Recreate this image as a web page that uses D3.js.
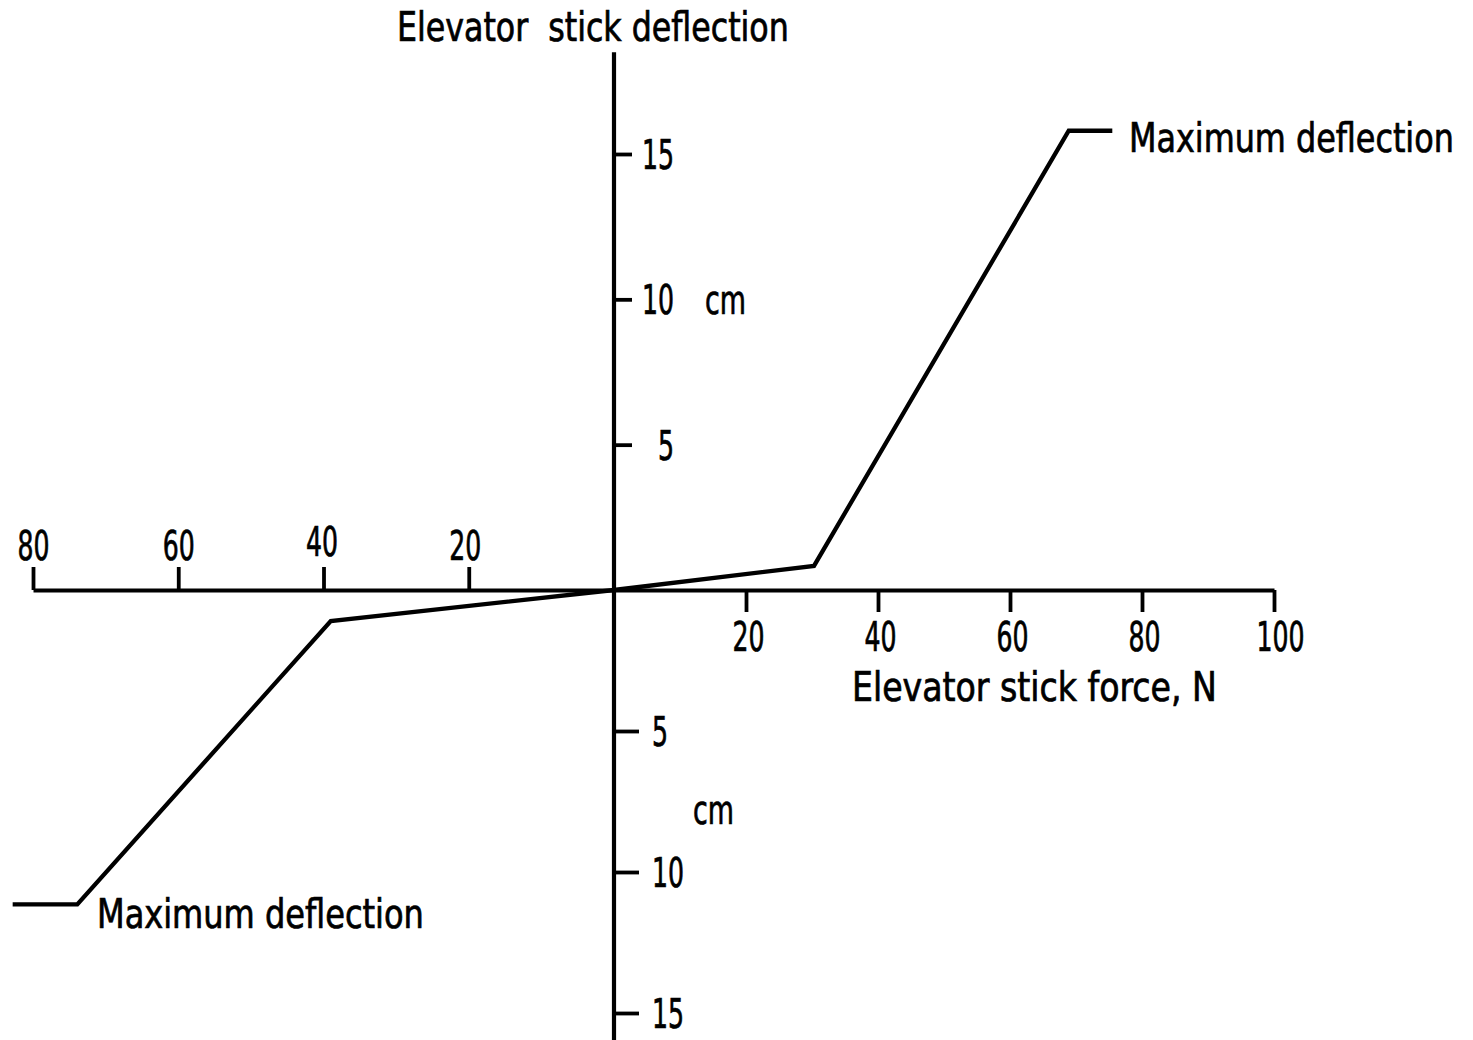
<!DOCTYPE html>
<html><head><meta charset="utf-8">
<script src="https://cdn.jsdelivr.net/npm/d3@7"></script>
<style>
html,body{margin:0;padding:0;background:#fff;}
svg{display:block;background:#fff;}
text{font-family:"Liberation Sans Narrow","DejaVu Sans Condensed","Roboto Condensed",sans-serif;font-stretch:condensed;font-size:40px;fill:#000;stroke:#000;stroke-width:0.7px;white-space:pre;}
</style></head><body>
<svg id="chart" width="1473" height="1040"></svg>
<script>
// ---- data ----
const forceBreaks = [-80, 0, 100];          // elevator stick force, N (push side drawn at a different scale)
const deflBreaks = [-15, 0, 15];            // elevator stick deflection, cm
const forceTicksLeft = [-80, -60, -40, -20];
const forceTicksRight = [20, 40, 60, 80, 100];
const deflTicksUp = [5, 10, 15];
const deflTicksDown = [-5, -10, -15];
const deflAxisExtent = [-16, 18.5];
const pullForce = [0, 30.3, 68.9, 75.5];
const pullDefl  = [0, 0.83, 15.8, 15.8];
const pushForce = [0, -39.0, -73.9, -82.8];
const pushDefl  = [0, -1.1, -11.15, -11.15];
const labels = {
  yTitle: "Elevator  stick deflection",
  xTitle: "Elevator stick force, N",
  maxUp: "Maximum deflection",
  maxDown: "Maximum deflection",
  unit: "cm"
};

// ---- drawing ----
const svg = d3.select("#chart");
const x = d3.scaleLinear().domain(forceBreaks).range([33, 614, 1274]);
const y = d3.scaleLinear().domain(deflBreaks).range([1013, 590, 154]);
const AX = 3.8;

function fitDigits(sel){
  sel.selectAll("text").each(function(){
    const n = this.textContent.length;
    d3.select(this).attr("textLength", n * 16).attr("lengthAdjust", "spacingAndGlyphs");
  });
}
function styleAxis(g){
  g.attr("font-size", null).attr("font-family", null);
  g.selectAll("line,path").attr("stroke", "#000").attr("stroke-width", AX);
}

// left (push) force axis
const xl = d3.scaleLinear().domain([forceBreaks[0], 0]).range([x(forceBreaks[0]), x(0)]);
const gl = svg.append("g").attr("transform", `translate(0,${y(0)})`)
  .call(d3.axisTop(xl).tickValues(forceTicksLeft).tickSize(23).tickSizeOuter(0).tickPadding(7)
    .tickFormat(d => Math.abs(d)));
styleAxis(gl); fitDigits(gl);
gl.selectAll(".tick text").attr("dx", d => d === -40 ? -2 : (d === -20 ? -4 : 0))
  .attr("dy", d => d === -40 ? "-0.1em" : "0em");

// right (pull) force axis
const xr = d3.scaleLinear().domain([0, forceBreaks[2]]).range([x(0), x(forceBreaks[2])]);
const gr = svg.append("g").attr("transform", `translate(0,${y(0)})`)
  .call(d3.axisBottom(xr).tickValues(forceTicksRight).tickSize(22).tickSizeOuter(0).tickPadding(11));
styleAxis(gr); fitDigits(gr);
gr.selectAll(".tick text").attr("dx", d => d === 100 ? 6 : 2);

// upper deflection ticks
const yu = d3.scaleLinear().domain([0, deflBreaks[2]]).range([y(0), y(deflBreaks[2])]);
const gu = svg.append("g").attr("transform", `translate(${x(0)},0)`)
  .call(d3.axisRight(yu).tickValues(deflTicksUp).tickSize(18).tickSizeOuter(0));
styleAxis(gu); gu.select(".domain").remove();
gu.selectAll(".tick text").attr("text-anchor", "end").attr("x", 60).attr("dy", "0.36em");
fitDigits(gu);

// lower deflection ticks
const yd = d3.scaleLinear().domain([deflBreaks[0], 0]).range([y(deflBreaks[0]), y(0)]);
const gd = svg.append("g").attr("transform", `translate(${x(0)},0)`)
  .call(d3.axisRight(yd).tickValues(deflTicksDown).tickSize(25).tickSizeOuter(0).tickPadding(13)
    .tickFormat(d => Math.abs(d)));
styleAxis(gd); gd.select(".domain").remove();
gd.selectAll(".tick text").attr("dy", "0.36em");
fitDigits(gd);

// vertical axis line
svg.append("line")
  .attr("x1", x(0)).attr("x2", x(0))
  .attr("y1", y(deflAxisExtent[1])).attr("y2", y(deflAxisExtent[0]))
  .attr("stroke", "#000").attr("stroke-width", 4.2);

// characteristic curves
const line = d3.line().x(d => x(d[0])).y(d => y(d[1]));
[[pullForce, pullDefl], [pushForce, pushDefl]].forEach(([f, s]) => {
  svg.append("path")
    .datum(f.map((v, i) => [v, s[i]]))
    .attr("d", line)
    .attr("fill", "none").attr("stroke", "#000")
    .attr("stroke-width", 4.3).attr("stroke-linejoin", "miter");
});

// text labels (horizontally scaled to the reference's condensed lettering)
function label(t, px, py, len){
  const g = svg.append("g").attr("transform", `translate(${px},${py})`);
  const txt = g.append("text").attr("x", 0).attr("y", 0).text(t);
  const w = txt.node().getComputedTextLength() || len;
  g.attr("transform", `translate(${px},${py}) scale(${len / w},1)`);
}
label(labels.yTitle, 397, 41, 392);
label(labels.xTitle, 852, 701, 365);
label(labels.maxUp, 1129, 152, 325);
label(labels.maxDown, 97, 928, 327);
label(labels.unit, 705, 314, 41);
label(labels.unit, 693, 824, 41);
</script>
</body></html>
